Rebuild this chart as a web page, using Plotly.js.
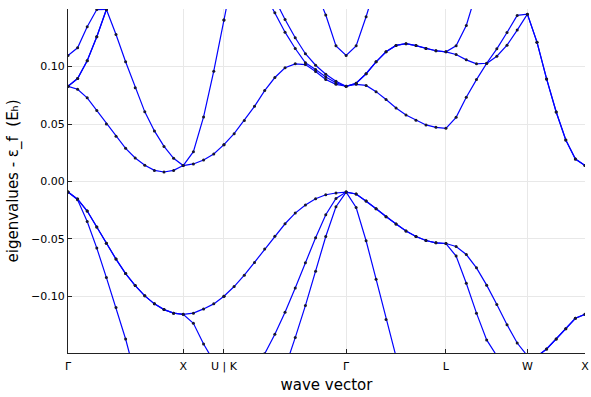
<!DOCTYPE html>
<html>
<head>
<meta charset="utf-8">
<script src="https://cdn.plot.ly/plotly-3.0.1.min.js"></script>
<style>html,body{margin:0;padding:0;background:#fff;}#chart{width:591px;height:397px;}</style>
</head>
<body>
<div id="chart"></div>
<script>
// k-path: Γ-X-U | K-Γ-L-W-X  (segment lengths in units of 2π/a, number of k intervals per segment)
const tickLabels = ["Γ", "X", "U | K", "Γ", "L", "W", "X"];
const segLengths = [1, Math.SQRT2 / 4, 3 * Math.SQRT2 / 4, Math.sqrt(3) / 2, Math.SQRT2 / 2, 0.5];
const segIntervals = [12, 4, 12, 10, 8, 6];

// Eigenvalues minus Fermi level (Hartree); 17 points on Γ-X-U, 37 points on K-Γ-L-W-X
const band2 = [
  -0.0093, -0.0160, -0.0349, -0.0581, -0.0838, -0.1099, -0.1373, -0.169, -0.198, -0.226, -0.252, -0.275, -0.296,
  -0.290, -0.280, -0.268, -0.256,
  -0.256, -0.252, -0.244, -0.231, -0.212, -0.189, -0.163, -0.1361, -0.1082, -0.0782, -0.0480, -0.0221, -0.0093,
  -0.0227, -0.0517, -0.0852, -0.1204, -0.158, -0.190, -0.220, -0.245, -0.260, -0.267,
  -0.271, -0.276, -0.281, -0.286, -0.290, -0.293, -0.295, -0.296,
  -0.296, -0.296, -0.296, -0.296, -0.296, -0.296
];
const band3 = [
  -0.0093, -0.0154, -0.0258, -0.0398, -0.0538, -0.0677, -0.0803, -0.0908, -0.0997, -0.1067, -0.1117, -0.1148, -0.1158,
  -0.1236, -0.1416, -0.157, -0.172,
  -0.172, -0.171, -0.168, -0.162, -0.1502, -0.1332, -0.1140, -0.0928, -0.0709, -0.0491, -0.0291, -0.0148, -0.0093,
  -0.0110, -0.0171, -0.0238, -0.0308, -0.0372, -0.0433, -0.0480, -0.0515, -0.0535, -0.0541,
  -0.0651, -0.0887, -0.1148, -0.1381, -0.152, -0.157, -0.156, -0.152,
  -0.1525, -0.1460, -0.1373, -0.1283, -0.1192, -0.1158
];
const band4 = [
  -0.0093, -0.0154, -0.0258, -0.0398, -0.0538, -0.0677, -0.0803, -0.0908, -0.0997, -0.1067, -0.1117, -0.1148, -0.1158,
  -0.1148, -0.1111, -0.1067, -0.1000,
  -0.1000, -0.0916, -0.0817, -0.0707, -0.0590, -0.0477, -0.0369, -0.0276, -0.0206, -0.0151, -0.0116, -0.0101, -0.0093,
  -0.0110, -0.0171, -0.0238, -0.0308, -0.0372, -0.0433, -0.0480, -0.0515, -0.0535, -0.0541,
  -0.0567, -0.0637, -0.0753, -0.0904, -0.1073, -0.1248, -0.1408, -0.152,
  -0.1525, -0.1460, -0.1373, -0.1283, -0.1192, -0.1158
];
const band5 = [
  0.0829, 0.0803, 0.0728, 0.0617, 0.0501, 0.0393, 0.0288, 0.0204, 0.0140, 0.0096, 0.0082, 0.0096, 0.0138,
  0.0152, 0.0187, 0.0239, 0.0320,
  0.0320, 0.0416, 0.0530, 0.0654, 0.0791, 0.0905, 0.0990, 0.1024, 0.1018, 0.0958, 0.0887, 0.0846, 0.0829,
  0.0846, 0.0836, 0.0782, 0.0713, 0.0640, 0.0579, 0.0532, 0.0492, 0.0471, 0.0462,
  0.0558, 0.0733, 0.0887, 0.1027, 0.1091, 0.1187, 0.1318, 0.1457,
  0.1213, 0.0893, 0.0605, 0.0361, 0.0195, 0.0138
];
const band6 = [
  0.0829, 0.0896, 0.1051, 0.1260, 0.1497, 0.1280, 0.1042, 0.0815, 0.0606, 0.0440, 0.0305, 0.0201, 0.0138,
  0.0259, 0.0562, 0.0960, 0.1407,
  0.1407, 0.185, 0.195, 0.185, 0.1635, 0.1469, 0.1300, 0.1158, 0.1033, 0.0975, 0.0910, 0.0859, 0.0829,
  0.0855, 0.0938, 0.1042, 0.1129, 0.1185, 0.1200, 0.1183, 0.1158, 0.1138, 0.1129,
  0.1106, 0.1059, 0.1024, 0.1029, 0.1155, 0.1297, 0.1446, 0.1457,
  0.1213, 0.0893, 0.0605, 0.0361, 0.0195, 0.0138
];
const band7 = [
  0.0829, 0.0896, 0.1051, 0.1260, 0.1498, 0.175, 0.200, 0.225, 0.250, 0.270, 0.290, 0.300, 0.305,
  0.300, 0.290, 0.270, 0.250,
  0.250, 0.240, 0.225, 0.210, 0.190, 0.1586, 0.1411, 0.1251, 0.1112, 0.1012, 0.0934, 0.0872, 0.0829,
  0.0855, 0.0938, 0.1042, 0.1129, 0.1185, 0.1200, 0.1183, 0.1158, 0.1138, 0.1129,
  0.1181, 0.1359, 0.165, 0.185, 0.200, 0.215, 0.225, 0.230,
  0.240, 0.260, 0.280, 0.290, 0.300, 0.305
];
const band8 = [
  0.1097, 0.1164, 0.1347, 0.1497, 0.1499, 0.180, 0.210, 0.240, 0.270, 0.290, 0.300, 0.305, 0.305,
  0.305, 0.300, 0.290, 0.280,
  0.280, 0.270, 0.260, 0.250, 0.235, 0.220, 0.205, 0.190, 0.178, 0.167, 0.1449, 0.1181, 0.1097,
  0.1181, 0.1435, 0.175, 0.200, 0.220, 0.235, 0.245, 0.250, 0.255, 0.255,
  0.240, 0.245, 0.250, 0.250, 0.250, 0.250, 0.245, 0.240,
  0.245, 0.260, 0.280, 0.290, 0.300, 0.305
];
const bands = [band2, band3, band4, band5, band6, band7, band8];

// Build k-distance coordinates from the path description
const tickPos = [0];
segLengths.forEach(l => tickPos.push(tickPos[tickPos.length - 1] + l));
const kx = [];
segLengths.forEach((len, s) => {
  const start = tickPos[s];
  const n = segIntervals[s];
  const first = (s === 0 || s === 2) ? 0 : 1; // new branch starts at K
  for (let i = first; i <= n; i++) kx.push(start + len * i / n);
});

const traces = bands.map(b => ({
  x: kx, y: b, type: 'scatter', mode: 'lines+markers',
  line: {color: '#0000ff', width: 1.2},
  marker: {color: '#151530', size: 3},
  cliponaxis: true, showlegend: false, hoverinfo: 'skip'
}));

const font = {family: 'DejaVu Sans, sans-serif', color: '#000'};
const layout = {
  width: 591, height: 397,
  margin: {l: 68, r: 6, t: 9, b: 44},
  paper_bgcolor: '#fff', plot_bgcolor: '#fff',
  showlegend: false,
  font: font,
  xaxis: {
    range: [0, tickPos[tickPos.length - 1]],
    tickmode: 'array', tickvals: tickPos, ticktext: tickLabels,
    ticks: 'inside', ticklen: 4, tickcolor: '#222', tickwidth: 1,
    ticklabelstandoff: 3,
    showgrid: true, gridcolor: '#e8e8e8', gridwidth: 1,
    showline: true, linecolor: '#222', linewidth: 1, zeroline: false,
    tickfont: {family: font.family, size: 11, color: '#000'},
    title: {text: 'wave vector', font: {family: font.family, size: 15, color: '#000'}, standoff: 7}
  },
  yaxis: {
    range: [-0.1495, 0.1502],
    tickmode: 'array', tickvals: [-0.10, -0.05, 0.00, 0.05, 0.10],
    ticktext: ['−0.10', '−0.05', '0.00', '0.05', '0.10'],
    ticks: 'inside', ticklen: 4, tickcolor: '#222', tickwidth: 1,
    showgrid: true, gridcolor: '#e8e8e8', gridwidth: 1,
    showline: true, linecolor: '#222', linewidth: 1, zeroline: false,
    tickfont: {family: font.family, size: 11, color: '#000'},
    title: {text: 'eigenvalues - ε_f  (Eₕ)', font: {family: font.family, size: 15, color: '#000'}, standoff: 8}
  }
};

Plotly.newPlot('chart', traces, layout, {staticPlot: true, displayModeBar: false});
</script>
</body>
</html>
